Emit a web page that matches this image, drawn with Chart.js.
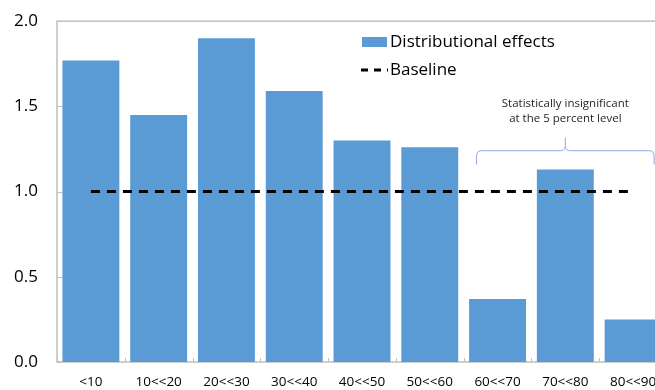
<!DOCTYPE html>
<html>
<head>
<meta charset="utf-8">
<script src="https://cdn.jsdelivr.net/npm/chart.js@4.4.1/dist/chart.umd.min.js"></script>
<style>
  html, body { margin: 0; padding: 0; background: #fff; overflow: hidden; }
  #wrap { width: 670px; height: 390px; }
</style>
</head>
<body>
<div id="wrap"><canvas id="c" width="670" height="390"></canvas></div>
<script>
const categories = ['<10', '10<<20', '20<<30', '30<<40', '40<<50', '50<<60', '60<<70', '70<<80', '80<<90'];
const distributionalEffects = [1.77, 1.45, 1.90, 1.59, 1.30, 1.26, 0.37, 1.13, 0.25];
const baseline = [1.0, 1.0, 1.0, 1.0, 1.0, 1.0, 1.0, 1.0, 1.0];
const yTicks = [0.0, 0.5, 1.0, 1.5, 2.0];
const seriesNames = ['Distributional effects', 'Baseline'];
const noteLines = ['Statistically insignificant', 'at the 5 percent level'];
const noteFrom = 6, noteTo = 8;

const FONT = '"Open Sans", "Noto Sans", sans-serif';
const BAR = '#5b9bd5';
const AXIS = '#bfbfbf';

const decorPlugin = {
  id: 'decor',
  beforeDatasetsDraw(chart) {
    const { ctx, chartArea: a, scales: { x, y } } = chart;
    ctx.save();
    ctx.strokeStyle = AXIS;
    ctx.lineWidth = 1.5;
    ctx.strokeRect(a.left, a.top, a.right - a.left, a.bottom - a.top);
    ctx.lineWidth = 1;
    yTicks.forEach(v => {
      const py = Math.round(y.getPixelForValue(v)) + 0.5;
      ctx.beginPath(); ctx.moveTo(a.left, py); ctx.lineTo(a.left + 5, py); ctx.stroke();
    });
    const w = x.getPixelForValue(1) - x.getPixelForValue(0);
    for (let i = 0; i <= categories.length; i++) {
      const px = Math.round(x.getPixelForValue(0) - w / 2 + i * w) + 0.5;
      ctx.beginPath(); ctx.moveTo(px, a.bottom); ctx.lineTo(px, a.bottom - 4); ctx.stroke();
    }
    ctx.restore();
  },
  afterDraw(chart) {
    const { ctx, scales: { x, y } } = chart;
    ctx.save();
    // legend
    ctx.fillStyle = BAR;
    ctx.fillRect(362, 37, 25, 10);
    ctx.strokeStyle = '#000';
    ctx.lineWidth = 3;
    ctx.setLineDash([7, 6]);
    ctx.beginPath(); ctx.moveTo(361, 70); ctx.lineTo(388, 70); ctx.stroke();
    ctx.setLineDash([]);
    ctx.fillStyle = '#000';
    ctx.font = '17px ' + FONT;
    ctx.textBaseline = 'middle';
    ctx.textAlign = 'left';
    ctx.fillText(seriesNames[0], 390, 42);
    ctx.fillText(seriesNames[1], 390, 70);

    // annotation brace
    const w = x.getPixelForValue(1) - x.getPixelForValue(0);
    const xl = x.getPixelForValue(noteFrom) - 0.31 * w;
    const xr = x.getPixelForValue(noteTo) + 0.31 * w;
    const xc = (xl + xr) / 2;
    const yTip = y.getPixelForValue(1.316);
    const yMid = y.getPixelForValue(1.24);
    const yEnd = y.getPixelForValue(1.158);
    const r = 5;
    ctx.strokeStyle = '#8faadc';
    ctx.lineWidth = 1;
    ctx.beginPath();
    ctx.moveTo(xl, yEnd);
    ctx.lineTo(xl, yMid + r);
    ctx.quadraticCurveTo(xl, yMid, xl + r, yMid);
    ctx.lineTo(xc - r, yMid);
    ctx.quadraticCurveTo(xc, yMid, xc, yMid - r);
    ctx.lineTo(xc, yTip);
    ctx.moveTo(xc, yMid - r);
    ctx.quadraticCurveTo(xc, yMid, xc + r, yMid);
    ctx.lineTo(xr - r, yMid);
    ctx.quadraticCurveTo(xr, yMid, xr, yMid + r);
    ctx.lineTo(xr, yEnd);
    ctx.stroke();

    ctx.fillStyle = '#262626';
    ctx.font = '11.5px ' + FONT;
    ctx.textAlign = 'center';
    ctx.fillText(noteLines[0], xc, y.getPixelForValue(1.515));
    ctx.fillText(noteLines[1], xc, y.getPixelForValue(1.427));
    ctx.restore();
  }
};

new Chart(document.getElementById('c'), {
  data: {
    labels: categories,
    datasets: [
      {
        type: 'line',
        label: seriesNames[1],
        data: baseline,
        borderColor: '#000',
        borderWidth: 3,
        borderDash: [9, 7],
        pointRadius: 0,
        fill: false,
        order: 0
      },
      {
        type: 'bar',
        label: seriesNames[0],
        data: distributionalEffects,
        backgroundColor: BAR,
        borderWidth: 0,
        barPercentage: 0.84,
        categoryPercentage: 1.0,
        order: 1
      }
    ]
  },
  options: {
    responsive: false,
    animation: false,
    devicePixelRatio: 1,
    layout: { padding: { top: 20, right: 3, left: 0, bottom: 0 } },
    plugins: { legend: { display: false }, tooltip: { enabled: false } },
    scales: {
      x: {
        offset: true,
        grid: { display: false },
        border: { display: false },
        ticks: { font: { family: FONT, size: 13.5 }, color: '#000', padding: 4, maxRotation: 0, autoSkip: false },
        afterFit(s) { s.height = 28; }
      },
      y: {
        min: 0, max: 2,
        grid: { display: false },
        border: { display: false },
        afterBuildTicks(s) { s.ticks = yTicks.map(v => ({ value: v })); },
        ticks: { font: { family: FONT, size: 17 }, color: '#000', padding: 11,
                 callback: v => Number(v).toFixed(1) },
        afterFit(s) { s.width = 57; }
      }
    }
  },
  plugins: [decorPlugin]
});
</script>
</body>
</html>
